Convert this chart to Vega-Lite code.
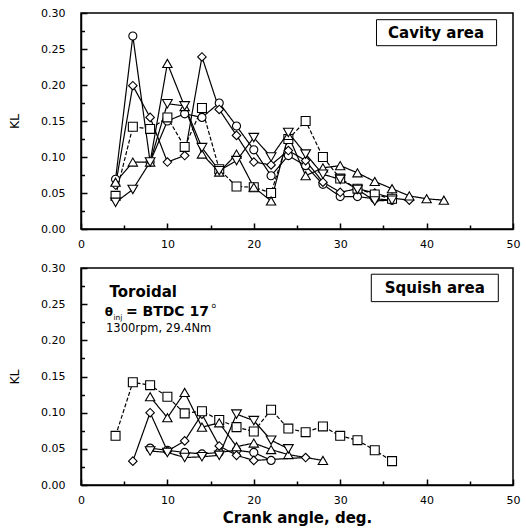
{
  "$schema": "https://vega.github.io/schema/vega-lite/v6.json",
  "padding": {"left": 7, "top": 6, "right": 4, "bottom": 0},
  "spacing": 11,
  "config": {
    "font": "DejaVu Sans",
    "view": {"stroke": "black", "strokeWidth": 1.5},
    "axis": {
      "grid": false,
      "domainColor": "black",
      "domainWidth": 1.5,
      "tickColor": "black",
      "tickWidth": 1.5,
      "labelColor": "black",
      "labelFont": "DejaVu Sans",
      "labelFontSize": 11,
      "labelOverlap": false,
      "titleFont": "DejaVu Sans",
      "titleColor": "black"
    }
  },
  "datasets": {
    "cavity": [
      {"s": "circle", "x": 4, "y": 0.069}, {"s": "circle", "x": 6, "y": 0.268}, {"s": "circle", "x": 8, "y": 0.093}, {"s": "circle", "x": 10, "y": 0.150}, {"s": "circle", "x": 12, "y": 0.160}, {"s": "circle", "x": 14, "y": 0.155}, {"s": "circle", "x": 16, "y": 0.175}, {"s": "circle", "x": 18, "y": 0.143}, {"s": "circle", "x": 20, "y": 0.110}, {"s": "circle", "x": 22, "y": 0.074}, {"s": "circle", "x": 24, "y": 0.102}, {"s": "circle", "x": 26, "y": 0.088}, {"s": "circle", "x": 28, "y": 0.062}, {"s": "circle", "x": 30, "y": 0.045}, {"s": "circle", "x": 32, "y": 0.045}, {"s": "circle", "x": 34, "y": 0.042}, {"s": "circle", "x": 36, "y": 0.040},
      {"s": "diamond", "x": 4, "y": 0.061}, {"s": "diamond", "x": 6, "y": 0.199}, {"s": "diamond", "x": 8, "y": 0.155}, {"s": "diamond", "x": 10, "y": 0.093}, {"s": "diamond", "x": 12, "y": 0.102}, {"s": "diamond", "x": 14, "y": 0.239}, {"s": "diamond", "x": 16, "y": 0.166}, {"s": "diamond", "x": 18, "y": 0.130}, {"s": "diamond", "x": 20, "y": 0.093}, {"s": "diamond", "x": 22, "y": 0.089}, {"s": "diamond", "x": 24, "y": 0.109}, {"s": "diamond", "x": 26, "y": 0.095}, {"s": "diamond", "x": 28, "y": 0.065}, {"s": "diamond", "x": 30, "y": 0.051}, {"s": "diamond", "x": 32, "y": 0.056}, {"s": "diamond", "x": 34, "y": 0.050}, {"s": "diamond", "x": 36, "y": 0.043}, {"s": "diamond", "x": 38, "y": 0.040},
      {"s": "square", "x": 4, "y": 0.046}, {"s": "square", "x": 6, "y": 0.142}, {"s": "square", "x": 8, "y": 0.139}, {"s": "square", "x": 10, "y": 0.155}, {"s": "square", "x": 12, "y": 0.114}, {"s": "square", "x": 14, "y": 0.168}, {"s": "square", "x": 16, "y": 0.083}, {"s": "square", "x": 18, "y": 0.059}, {"s": "square", "x": 20, "y": 0.058}, {"s": "square", "x": 22, "y": 0.050}, {"s": "square", "x": 24, "y": 0.125}, {"s": "square", "x": 26, "y": 0.150}, {"s": "square", "x": 28, "y": 0.100}, {"s": "square", "x": 30, "y": 0.070}, {"s": "square", "x": 32, "y": 0.056}, {"s": "square", "x": 34, "y": 0.048}, {"s": "square", "x": 36, "y": 0.042},
      {"s": "triangle-up", "x": 4, "y": 0.065}, {"s": "triangle-up", "x": 6, "y": 0.093}, {"s": "triangle-up", "x": 8, "y": 0.093}, {"s": "triangle-up", "x": 10, "y": 0.230}, {"s": "triangle-up", "x": 12, "y": 0.170}, {"s": "triangle-up", "x": 14, "y": 0.104}, {"s": "triangle-up", "x": 16, "y": 0.079}, {"s": "triangle-up", "x": 18, "y": 0.104}, {"s": "triangle-up", "x": 20, "y": 0.058}, {"s": "triangle-up", "x": 22, "y": 0.039}, {"s": "triangle-up", "x": 24, "y": 0.130}, {"s": "triangle-up", "x": 26, "y": 0.074}, {"s": "triangle-up", "x": 28, "y": 0.085}, {"s": "triangle-up", "x": 30, "y": 0.088}, {"s": "triangle-up", "x": 32, "y": 0.078}, {"s": "triangle-up", "x": 34, "y": 0.066}, {"s": "triangle-up", "x": 36, "y": 0.056}, {"s": "triangle-up", "x": 38, "y": 0.046}, {"s": "triangle-up", "x": 40, "y": 0.042}, {"s": "triangle-up", "x": 42, "y": 0.040},
      {"s": "triangle-down", "x": 4, "y": 0.037}, {"s": "triangle-down", "x": 6, "y": 0.055}, {"s": "triangle-down", "x": 8, "y": 0.093}, {"s": "triangle-down", "x": 10, "y": 0.174}, {"s": "triangle-down", "x": 12, "y": 0.171}, {"s": "triangle-down", "x": 14, "y": 0.113}, {"s": "triangle-down", "x": 16, "y": 0.081}, {"s": "triangle-down", "x": 18, "y": 0.095}, {"s": "triangle-down", "x": 20, "y": 0.127}, {"s": "triangle-down", "x": 22, "y": 0.100}, {"s": "triangle-down", "x": 24, "y": 0.134}, {"s": "triangle-down", "x": 26, "y": 0.104}, {"s": "triangle-down", "x": 28, "y": 0.076}, {"s": "triangle-down", "x": 30, "y": 0.069}, {"s": "triangle-down", "x": 32, "y": 0.055}, {"s": "triangle-down", "x": 34, "y": 0.039}, {"s": "triangle-down", "x": 36, "y": 0.040}
    ],
    "squish": [
      {"s": "circle", "x": 8, "y": 0.051}, {"s": "circle", "x": 10, "y": 0.048}, {"s": "circle", "x": 12, "y": 0.045}, {"s": "circle", "x": 14, "y": 0.043}, {"s": "circle", "x": 16, "y": 0.045}, {"s": "circle", "x": 18, "y": 0.048}, {"s": "circle", "x": 20, "y": 0.045}, {"s": "circle", "x": 22, "y": 0.034},
      {"s": "diamond", "x": 6, "y": 0.033}, {"s": "diamond", "x": 8, "y": 0.100}, {"s": "diamond", "x": 10, "y": 0.047}, {"s": "diamond", "x": 12, "y": 0.061}, {"s": "diamond", "x": 14, "y": 0.098}, {"s": "diamond", "x": 16, "y": 0.054}, {"s": "diamond", "x": 18, "y": 0.041}, {"s": "diamond", "x": 20, "y": 0.034}, {"s": "diamond", "x": 26, "y": 0.038},
      {"s": "square", "x": 4, "y": 0.068}, {"s": "square", "x": 6, "y": 0.142}, {"s": "square", "x": 8, "y": 0.138}, {"s": "square", "x": 10, "y": 0.122}, {"s": "square", "x": 12, "y": 0.099}, {"s": "square", "x": 14, "y": 0.102}, {"s": "square", "x": 16, "y": 0.090}, {"s": "square", "x": 18, "y": 0.080}, {"s": "square", "x": 20, "y": 0.074}, {"s": "square", "x": 22, "y": 0.104}, {"s": "square", "x": 24, "y": 0.078}, {"s": "square", "x": 26, "y": 0.073}, {"s": "square", "x": 28, "y": 0.081}, {"s": "square", "x": 30, "y": 0.068}, {"s": "square", "x": 32, "y": 0.062}, {"s": "square", "x": 34, "y": 0.048}, {"s": "square", "x": 36, "y": 0.033},
      {"s": "triangle-up", "x": 8, "y": 0.122}, {"s": "triangle-up", "x": 10, "y": 0.093}, {"s": "triangle-up", "x": 12, "y": 0.128}, {"s": "triangle-up", "x": 14, "y": 0.080}, {"s": "triangle-up", "x": 16, "y": 0.086}, {"s": "triangle-up", "x": 18, "y": 0.053}, {"s": "triangle-up", "x": 20, "y": 0.058}, {"s": "triangle-up", "x": 22, "y": 0.049}, {"s": "triangle-up", "x": 24, "y": 0.042}, {"s": "triangle-up", "x": 28, "y": 0.034},
      {"s": "triangle-down", "x": 8, "y": 0.047}, {"s": "triangle-down", "x": 10, "y": 0.045}, {"s": "triangle-down", "x": 12, "y": 0.038}, {"s": "triangle-down", "x": 14, "y": 0.039}, {"s": "triangle-down", "x": 16, "y": 0.041}, {"s": "triangle-down", "x": 18, "y": 0.098}, {"s": "triangle-down", "x": 20, "y": 0.089}, {"s": "triangle-down", "x": 22, "y": 0.062}, {"s": "triangle-down", "x": 24, "y": 0.050}
    ]
  },
  "vconcat": [
    {
      "width": 432,
      "height": 216,
      "resolve": {"axis": {"x": "independent", "y": "independent"}},
      "layer": [
        {
          "data": {"name": "cavity"},
          "mark": {"type": "line", "color": "black", "strokeWidth": 1.2},
          "encoding": {
            "x": {"field": "x", "type": "quantitative", "scale": {"domain": [0, 50]},
              "axis": {"orient": "bottom", "values": [0, 10, 20, 30, 40, 50], "ticks": false, "labelPadding": 9, "labelFlush": false, "title": null}},
            "y": {"field": "y", "type": "quantitative", "scale": {"domain": [0, 0.3]},
              "axis": {"orient": "left", "values": [0, 0.05, 0.1, 0.15, 0.2, 0.25, 0.3], "format": ".2f", "ticks": false, "labelPadding": 16, "title": "KL", "titleFontSize": 12.5, "titleFontWeight": "normal", "titlePadding": 19}},
            "detail": {"field": "s"},
            "strokeDash": {"field": "s", "type": "nominal", "scale": {"domain": ["circle", "diamond", "square", "triangle-up", "triangle-down"], "range": [[1, 0], [1, 0], [4, 2], [1, 0], [1, 0]]}, "legend": null}
          }
        },
        {
          "data": {"name": "cavity"},
          "mark": {"type": "point", "filled": true, "fill": "white", "stroke": "black", "strokeWidth": 1.1, "opacity": 1},
          "encoding": {
            "x": {"field": "x", "type": "quantitative",
              "axis": {"orient": "top", "offset": -216, "zindex": 2, "values": [0, 10, 20, 30, 40, 50], "ticks": true, "tickSize": 6, "labels": false, "domain": false, "title": null}},
            "y": {"field": "y", "type": "quantitative",
              "axis": {"orient": "right", "offset": -432, "zindex": 2, "values": [0, 0.05, 0.1, 0.15, 0.2, 0.25, 0.3], "ticks": true, "tickSize": 6, "labels": false, "domain": false, "title": null}},
            "shape": {"field": "s", "type": "nominal", "scale": {"domain": ["circle", "diamond", "square", "triangle-up", "triangle-down"], "range": ["circle", "diamond", "square", "triangle-up", "triangle-down"]}, "legend": null},
            "size": {"field": "s", "type": "nominal", "scale": {"domain": ["circle", "diamond", "square", "triangle-up", "triangle-down"], "range": [65, 95, 60, 90, 90]}, "legend": null}
          }
        },
        {
          "data": {"values": [{"x1": 34.2, "x2": 48.1, "y1": 0.2546, "y2": 0.2907}]},
          "mark": {"type": "rect", "fill": "white", "stroke": "black", "strokeWidth": 1},
          "encoding": {
            "x": {"field": "x1", "type": "quantitative",
              "axis": {"orient": "top", "offset": -216, "zindex": 2, "values": [5, 15, 25, 35, 45], "ticks": true, "tickSize": 4, "labels": false, "domain": false, "title": null}},
            "x2": {"field": "x2"},
            "y": {"field": "y1", "type": "quantitative",
              "axis": {"orient": "right", "offset": -432, "zindex": 2, "values": [0.025, 0.075, 0.125, 0.175, 0.225, 0.275], "ticks": true, "tickSize": 3.5, "labels": false, "domain": false, "title": null}},
            "y2": {"field": "y2"}
          }
        },
        {
          "data": {"values": [{"x": 41.1, "y": 0.2655, "label": "Cavity area"}]},
          "mark": {"type": "text", "font": "DejaVu Sans", "fontSize": 15, "fontWeight": "bold", "align": "center", "baseline": "alphabetic", "color": "black"},
          "encoding": {
            "x": {"field": "x", "type": "quantitative", "axis": null},
            "y": {"field": "y", "type": "quantitative", "axis": null},
            "text": {"field": "label"}
          }
        }
      ]
    },
    {
      "width": 432,
      "height": 217,
      "resolve": {"axis": {"x": "independent", "y": "independent"}},
      "layer": [
        {
          "data": {"name": "squish"},
          "mark": {"type": "line", "color": "black", "strokeWidth": 1.2},
          "encoding": {
            "x": {"field": "x", "type": "quantitative", "scale": {"domain": [0, 50]},
              "axis": {"orient": "bottom", "values": [0, 10, 20, 30, 40, 50], "ticks": false, "labelPadding": 9, "labelFlush": false, "title": "Crank angle, deg.", "titleFontSize": 15, "titleFontWeight": "bold", "titlePadding": 5}},
            "y": {"field": "y", "type": "quantitative", "scale": {"domain": [0, 0.3]},
              "axis": {"orient": "left", "values": [0, 0.05, 0.1, 0.15, 0.2, 0.25, 0.3], "format": ".2f", "ticks": false, "labelPadding": 16, "title": "KL", "titleFontSize": 12.5, "titleFontWeight": "normal", "titlePadding": 19}},
            "detail": {"field": "s"},
            "strokeDash": {"field": "s", "type": "nominal", "scale": {"domain": ["circle", "diamond", "square", "triangle-up", "triangle-down"], "range": [[1, 0], [1, 0], [4, 2], [1, 0], [1, 0]]}, "legend": null}
          }
        },
        {
          "data": {"name": "squish"},
          "mark": {"type": "point", "filled": true, "fill": "white", "stroke": "black", "strokeWidth": 1.1, "opacity": 1},
          "encoding": {
            "x": {"field": "x", "type": "quantitative",
              "axis": {"orient": "top", "offset": -217, "zindex": 2, "values": [0, 10, 20, 30, 40, 50], "ticks": true, "tickSize": 6, "labels": false, "domain": false, "title": null}},
            "y": {"field": "y", "type": "quantitative",
              "axis": {"orient": "right", "offset": -432, "zindex": 2, "values": [0, 0.05, 0.1, 0.15, 0.2, 0.25, 0.3], "ticks": true, "tickSize": 6, "labels": false, "domain": false, "title": null}},
            "shape": {"field": "s", "type": "nominal", "scale": {"domain": ["circle", "diamond", "square", "triangle-up", "triangle-down"], "range": ["circle", "diamond", "square", "triangle-up", "triangle-down"]}, "legend": null},
            "size": {"field": "s", "type": "nominal", "scale": {"domain": ["circle", "diamond", "square", "triangle-up", "triangle-down"], "range": [65, 95, 60, 90, 90]}, "legend": null}
          }
        },
        {
          "data": {"values": [{"x1": 33.6, "x2": 48.3, "y1": 0.2535, "y2": 0.2914}]},
          "mark": {"type": "rect", "fill": "white", "stroke": "black", "strokeWidth": 1},
          "encoding": {
            "x": {"field": "x1", "type": "quantitative",
              "axis": {"orient": "top", "offset": -217, "zindex": 2, "values": [5, 15, 25, 35, 45], "ticks": true, "tickSize": 4, "labels": false, "domain": false, "title": null}},
            "x2": {"field": "x2"},
            "y": {"field": "y1", "type": "quantitative",
              "axis": {"orient": "right", "offset": -432, "zindex": 2, "values": [0.025, 0.075, 0.125, 0.175, 0.225, 0.275], "ticks": true, "tickSize": 3.5, "labels": false, "domain": false, "title": null}},
            "y2": {"field": "y2"}
          }
        },
        {
          "data": {"values": [{"x": 40.95, "y": 0.266, "label": "Squish area"}]},
          "mark": {"type": "text", "font": "DejaVu Sans", "fontSize": 15, "fontWeight": "bold", "align": "center", "baseline": "alphabetic", "color": "black"},
          "encoding": {
            "x": {"field": "x", "type": "quantitative", "axis": null},
            "y": {"field": "y", "type": "quantitative", "axis": null},
            "text": {"field": "label"}
          }
        },
        {
          "data": {"values": [{"x": 3.3, "y": 0.260, "label": "Toroidal"}]},
          "mark": {"type": "text", "font": "DejaVu Sans", "fontSize": 15, "fontWeight": "bold", "align": "left", "baseline": "alphabetic", "color": "black"},
          "encoding": {
            "x": {"field": "x", "type": "quantitative", "axis": null},
            "y": {"field": "y", "type": "quantitative", "axis": null},
            "text": {"field": "label"}
          }
        },
        {
          "data": {"values": [{"x": 2.75, "y": 0.234, "label": "θ"}]},
          "mark": {"type": "text", "font": "DejaVu Sans", "fontSize": 12, "fontWeight": "bold", "align": "left", "baseline": "alphabetic", "color": "black"},
          "encoding": {
            "x": {"field": "x", "type": "quantitative", "axis": null},
            "y": {"field": "y", "type": "quantitative", "axis": null},
            "text": {"field": "label"}
          }
        },
        {
          "data": {"values": [{"x": 5.2, "y": 0.234, "label": "= BTDC 17"}]},
          "mark": {"type": "text", "font": "DejaVu Sans", "fontSize": 14, "fontWeight": "bold", "align": "left", "baseline": "alphabetic", "color": "black"},
          "encoding": {
            "x": {"field": "x", "type": "quantitative", "axis": null},
            "y": {"field": "y", "type": "quantitative", "axis": null},
            "text": {"field": "label"}
          }
        },
        {
          "data": {"values": [{"x": 2.9, "y": 0.211, "label": "1300rpm, 29.4Nm"}]},
          "mark": {"type": "text", "font": "DejaVu Sans", "fontSize": 11.5, "fontWeight": "normal", "align": "left", "baseline": "alphabetic", "color": "black"},
          "encoding": {
            "x": {"field": "x", "type": "quantitative", "axis": null},
            "y": {"field": "y", "type": "quantitative", "axis": null},
            "text": {"field": "label"}
          }
        },
        {
          "data": {"values": [{"x": 3.75, "y": 0.2275, "label": "inj"}, {"x": 15.1, "y": 0.2445, "label": "o"}]},
          "mark": {"type": "text", "font": "DejaVu Sans", "fontSize": 7.5, "align": "left", "baseline": "alphabetic", "color": "black"},
          "encoding": {
            "x": {"field": "x", "type": "quantitative", "axis": null},
            "y": {"field": "y", "type": "quantitative", "axis": null},
            "text": {"field": "label"}
          }
        }
      ]
    }
  ]
}
